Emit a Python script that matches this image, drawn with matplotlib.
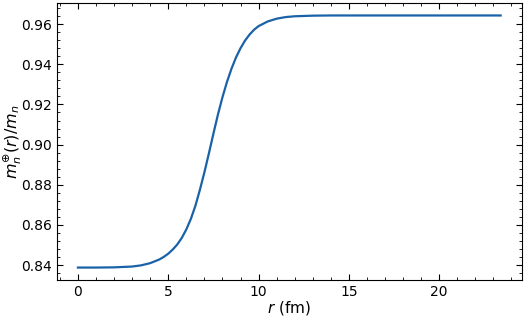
import matplotlib
matplotlib.use("Agg")
import matplotlib.pyplot as plt
from matplotlib.ticker import MultipleLocator

# values
r_fm = [0, 1, 2, 2.5, 3, 3.5, 4, 4.5, 4.75, 5, 5.25, 5.5, 5.75, 6, 6.25,
        6.5, 6.75, 7, 7.25, 7.5, 7.75, 8, 8.25, 8.5, 8.75, 9, 9.25, 9.5,
        9.75, 10, 10.5, 11, 11.5, 12, 13, 14, 16, 18, 20, 22, 23.4]
mass_ratio = [0.8388, 0.8388, 0.8389, 0.8391, 0.8393, 0.8399, 0.8410, 0.8428,
              0.8441, 0.8457, 0.8478, 0.8503, 0.8536, 0.8578, 0.8630,
              0.8695, 0.8775, 0.8862, 0.8957, 0.9055, 0.9150, 0.9236,
              0.9312, 0.9378, 0.9434, 0.9480, 0.9518, 0.9548, 0.9572,
              0.9590, 0.9613, 0.9627, 0.9635, 0.9639, 0.9642, 0.9643,
              0.9643, 0.9643, 0.9643, 0.9643, 0.9643]

fig = plt.figure(figsize=(5.26, 3.18), dpi=100)
ax = fig.add_axes([0.108, 0.119, 0.884, 0.872])

ax.plot(r_fm, mass_ratio, color="#1a62a8", lw=1.6)

ax.set_xlabel(r"$r$ (fm)", fontsize=11, labelpad=0)
ax.set_ylabel(r"$m_n^{\oplus}(r)/m_n$", fontsize=11.5, labelpad=-2)

ax.xaxis.set_major_locator(MultipleLocator(5))
ax.xaxis.set_minor_locator(MultipleLocator(1))
ax.yaxis.set_major_locator(MultipleLocator(0.02))
ax.yaxis.set_minor_locator(MultipleLocator(0.004))
ax.tick_params(which="both", direction="in", top=True, right=True,
               labelsize=10)
ax.tick_params(which="major", length=4)
ax.tick_params(which="minor", length=2)

fig.savefig("out.png", dpi=100)
